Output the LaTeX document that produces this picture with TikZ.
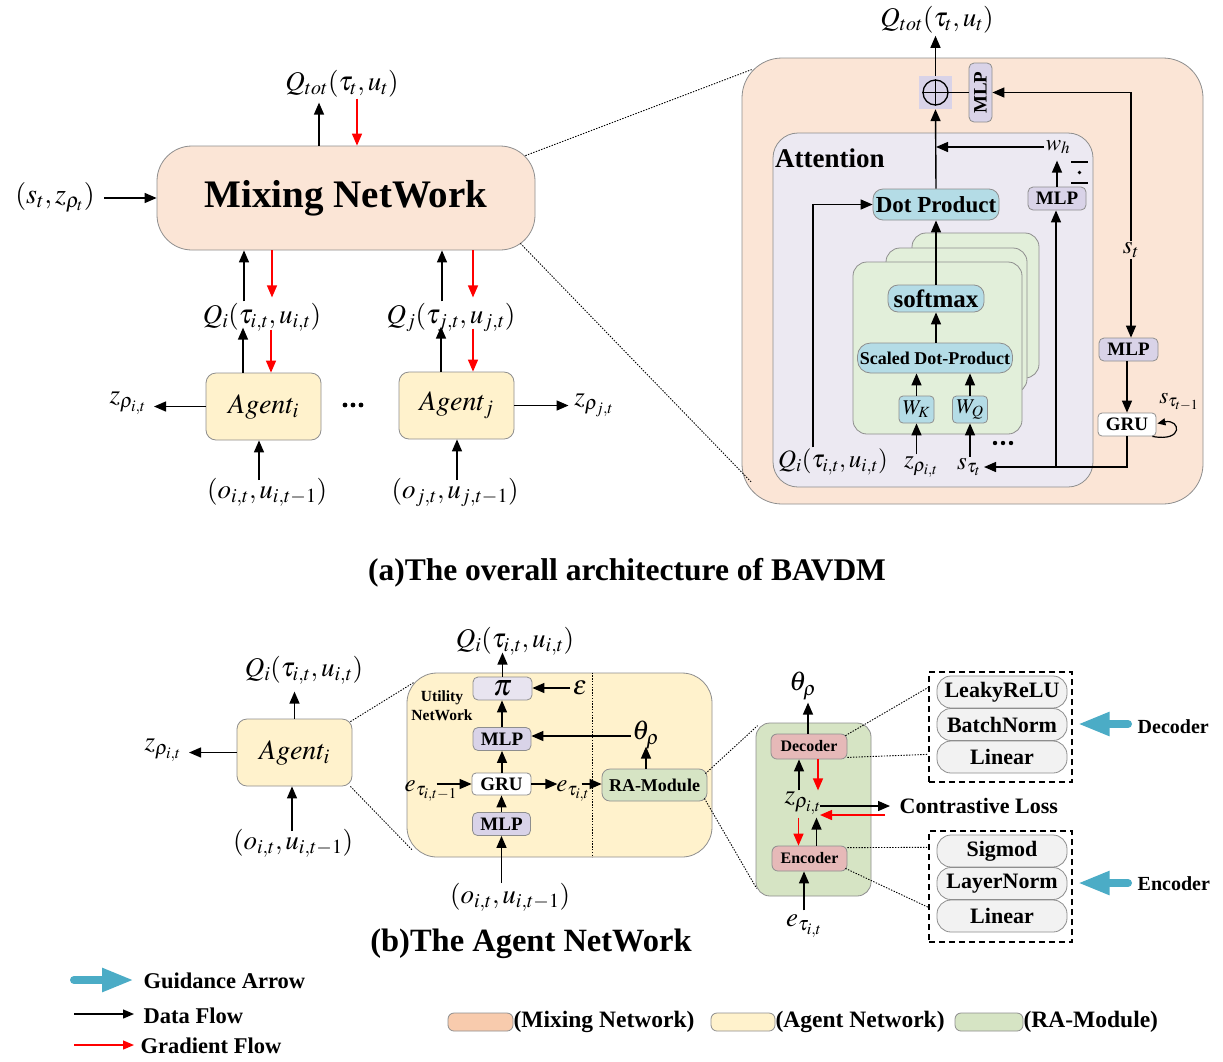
\documentclass[tikz,border=0pt]{standalone}
\usepackage{mathptmx}
\usepackage[no-math]{fontspec}
\setmainfont{Liberation Serif}
\usepackage{graphicx}
\usetikzlibrary{arrows.meta,calc}
\newcommand{\fsz}[1]{\fontsize{#1}{#1}\selectfont}
\definecolor{peach}{HTML}{FBE5D6}
\definecolor{agenty}{HTML}{FFF2CC}
\definecolor{attnl}{HTML}{ECE9F2}
\definecolor{greenl}{HTML}{E2EFDA}
\definecolor{blueb}{HTML}{B4DCE6}
\definecolor{lav}{HTML}{D9D3E8}
\definecolor{lavl}{HTML}{E8E4F0}
\definecolor{rag}{HTML}{D6E4C4}
\definecolor{pinkb}{HTML}{E6B9B8}
\definecolor{grayb}{HTML}{F2F2F2}
\definecolor{guide}{HTML}{4BACC6}
\definecolor{swmix}{HTML}{F8CBAD}
\definecolor{bord}{HTML}{8E8E8E}
\begin{document}
\begin{tikzpicture}[x=1pt,y=-1pt,
  every node/.style={inner sep=1.5pt},
  bx/.style={draw=bord, line width=0.8pt, inner sep=0pt, align=center},
  arr/.style={-{Triangle[length=12pt,width=10pt]}, line width=1.4pt},
  garr/.style={-{Triangle[length=12pt,width=10pt]}, line width=1.4pt, red},
  dotl/.style={dash pattern=on 1.4pt off 1.4pt, line width=0.9pt},
  guidearr/.style={draw=guide, line width=8pt, line cap=round, -{Triangle[length=32pt,width=22pt]}},
  dbox/.style={draw, dash pattern=on 6pt off 4pt, line width=1.3pt, inner sep=0pt},
  pill/.style={bx, fill=grayb, rounded corners=14pt, minimum width=130pt, minimum height=32pt, font={\fsz{22}\bfseries}},
  mlpbox/.style={bx, fill=lav, rounded corners=5pt, minimum width=58pt, minimum height=23pt, font={\fsz{19}\bfseries}},
  bluebox/.style={bx, fill=blueb, rounded corners=10pt},
]
\fill[white] (0,0) rectangle (1223,1061);
\useasboundingbox (0,0) rectangle (1223,1061);

%% ---------------- (a) left part
\node[bx, fill=peach, rounded corners=35pt, minimum width=378pt, minimum height=104pt, font={\fsz{39}\bfseries}] (mix) at (346,198) {Mixing NetWork};
\node[font=\fsz{27}] (qtot) at (342,84) {$Q_{tot}(\tau_t,u_t)$};
\draw[arr] ($(mix.north)+(-27,0)$) -- ($(mix.north)+(-27,-43)$);
\draw[garr] ($(mix.north)+(11,-47)$) -- ($(mix.north)+(11,0)$);
\node[font=\fsz{28}] (st) at (55,197) {$(s_t,z_{\rho_t})$};
\draw[arr] ($(st.east)+(8,1)$) -- ($(st.east -| mix.west)+(0,1)$);

\node[font=\fsz{27}] (qi) at (262,317) {$Q_i(\tau_{i,t},u_{i,t})$};
\node[font=\fsz{27}] (qj) at (451,317) {$Q_j(\tau_{j,t},u_{j,t})$};
\node[bx, fill=agenty, rounded corners=10pt, minimum width=115pt, minimum height=67pt, font=\fsz{28}] (agi) at (263.5,406.5) {$Agent_i$};
\node[bx, fill=agenty, rounded corners=10pt, minimum width=115pt, minimum height=67pt, font=\fsz{28}] (agj) at (456.5,405.5) {$Agent_j$};

\draw[arr] ($(mix.south)+(-102,51)$) -- ($(mix.south)+(-102,0)$);
\draw[garr] ($(mix.south)+(-74,0)$) -- ($(mix.south)+(-74,47)$);
\draw[arr] ($(mix.south)+(96,51)$) -- ($(mix.south)+(96,0)$);
\draw[garr] ($(mix.south)+(127,0)$) -- ($(mix.south)+(127,47)$);

\draw[arr] ($(agi.north)+(-20.5,0)$) -- ($(agi.north)+(-20.5,-45)$);
\draw[garr] ($(agi.north)+(7.5,-43)$) -- ($(agi.north)+(7.5,0)$);
\draw[arr] ($(agj.north)+(-15.5,0)$) -- ($(agj.north)+(-15.5,-45)$);
\draw[garr] ($(agj.north)+(16.5,-43)$) -- ($(agj.north)+(16.5,0)$);

\node[font=\fsz{27}] (zi) at (128,403) {$z_{\rho_{i,t}}$};
\draw[arr] (agi.west) -- ($(agi.west -| zi.east)+(6,0)$);
\node[font=\fsz{27}] (zj) at (594,405) {$z_{\rho_{j,t}}$};
\draw[arr] (agj.east) -- ($(agj.east -| zj.west)+(-4,0)$);
\fill (345,405) circle (2.4) (353,405) circle (2.4) (361,405) circle (2.4);

\node[font=\fsz{27}] (oi) at (267,492) {$(o_{i,t},u_{i,t-1})$};
\draw[arr] ($(oi.north)+(-8,4)$) -- ($(oi.north |- agi.south)+(-8,0)$);
\node[font=\fsz{27}] (oj) at (455,492) {$(o_{j,t},u_{j,t-1})$};
\draw[arr] ($(oj.north)+(2,4)$) -- ($(oj.north |- agj.south)+(2,0)$);

%% ---------------- (a) right part
\node[bx, fill=peach, rounded corners=40pt, minimum width=461pt, minimum height=446pt] (outer) at (972.5,281) {};
\draw[dotl] ($(mix.north east)+(-10,10)$) -- ($(outer.north west)+(10,12)$);
\draw[dotl] ($(mix.south east)+(-15,-7)$) -- ($(outer.south west)+(10,-22)$);
\node[bx, fill=attnl, rounded corners=25pt, minimum width=320pt, minimum height=354pt] (attn) at (933,310) {};
\node[anchor=west, font={\fsz{27}\bfseries}, inner sep=0pt] (attl) at (775,158) {Attention};
\node[bx, fill=greenl, rounded corners=14pt, minimum width=127pt, minimum height=145pt] (g3) at (975.5,305.5) {};
\node[bx, fill=greenl, rounded corners=14pt, minimum width=141pt, minimum height=145pt] (g2) at (956.5,320.5) {};
\node[bx, fill=greenl, rounded corners=14pt, minimum width=169pt, minimum height=172pt] (g1) at (937.5,348) {};

\node[fill=lav, minimum size=33pt, inner sep=0pt] (opsq) at (935.5,92.5) {};
\node[circle, draw, line width=1.3pt, minimum size=25pt, inner sep=0pt] (op) at (935.5,92.5) {};
\draw[line width=1.3pt] (op.north) -- (op.south) (op.west) -- (op.east);
\node[bx, fill=lav, rounded corners=5pt, minimum width=23pt, minimum height=59pt, font={\fsz{19}\bfseries}] (mlpv) at (980.5,92.5) {\rotatebox{90}{MLP}};
\draw[line width=1.4pt] (op.east) -- (mlpv.west);
\node[font=\fsz{27}] (qtot2) at (937,20) {$Q_{tot}(\tau_t,u_t)$};
\draw[arr] (opsq.north) -- ($(opsq.north)+(0,-40)$);

\node[bluebox, minimum width=126pt, minimum height=31pt, font={\fsz{23}\bfseries}] (dotp) at (936,204.5) {Dot Product};
\node[bluebox, minimum width=96pt, minimum height=27pt, font={\fsz{25}\bfseries}] (sm) at (936,298.5) {softmax};
\node[bluebox, rounded corners=13pt, minimum width=155pt, minimum height=30pt, font={\fsz{18}\bfseries}] (sc) at (935,358) {Scaled Dot-Product};
\node[bx, fill=blueb, rounded corners=4pt, minimum width=35pt, minimum height=27pt, font=\fsz{21}] (wk) at (916.5,409.5) {$W_K$};
\node[bx, fill=blueb, rounded corners=4pt, minimum width=35pt, minimum height=27pt, font=\fsz{21}] (wq) at (970,409.5) {$W_Q$};
\node[mlpbox] (mlpa) at (1057,198.5) {MLP};
\node[font=\fsz{23}] (wh) at (1058,147) {$w_h$};
\node[font=\fsz{25}] (stl) at (1131,250) {$s_t$};
\node[mlpbox, minimum width=59pt] (mlpr) at (1128.5,349.5) {MLP};
\node[bx, fill=white, rounded corners=4pt, minimum width=58pt, minimum height=23pt, font={\fsz{19}\bfseries}] (grur) at (1127,424.5) {GRU};
\node[font=\fsz{23}] (stm) at (1179,402) {$s_{\tau_{t-1}}$};
\node[font=\fsz{25}] (qia) at (833,462) {$Q_i(\tau_{i,t},u_{i,t})$};
\node[font=\fsz{25}, inner sep=0pt] (zr) at (921,467) {$z_{\rho_{i,t}}$};
\node[font=\fsz{25}, inner sep=0pt] (stau) at (969,467) {$s_{\tau_t}$};
\fill (995,443) circle (2.2) (1003,443) circle (2.2) (1011,443) circle (2.2);

\draw[arr] (dotp.north) -- (opsq.south);
\draw[arr] (sm.north) -- (dotp.south);
\draw[arr] (sc.north -| sm.south) -- (sm.south);
\draw[arr] (wk.north) -- (wk.north |- sc.south);
\draw[arr] (wq.north) -- (wq.north |- sc.south);
\draw[arr] ($(wk.south |- zr.north)+(0,-2)$) -- (wk.south);
\draw[arr] ($(wq.south |- stau.north)+(0,-1)$) -- (wq.south);
\draw[arr] ($(qia.north)+(-20,0)$) |- (dotp.west);
\draw[arr] (wh.west) -- (wh.west -| dotp.north);
\draw[arr] (mlpa.north) -- ($(mlpa.north)+(0,-26)$);
\draw[line width=1.3pt] (1071,162) -- (1088,162) (1071,183) -- (1088,183);
\fill (1079.5,172.5) circle (1.9);
\draw[arr] (stl.north) |- (mlpv.east);
\draw[arr] (stl.south) -- (stl.south |- mlpr.north);
\draw[arr] (mlpr.south -| grur.north) -- (grur.north);
\draw[arr] (grur.south) |- ($(stau.east)+(3,0)$);
\draw[arr] ($(mlpa.south |- stau.east)+(-1,0)$) -- ($(mlpa.south)+(-1,0)$);
\draw[-{Triangle[length=8pt,width=7pt]}, line width=1.2pt] ($(grur.south east)+(-4,0)$) .. controls ($(grur.south east)+(28,6)$) and ($(grur.east)+(24,-6)$) .. ($(grur.east)+(1,-1)$);

%% ---------------- captions
\node[font={\fsz{31.5}\bfseries}] (capa) at (627,573) {(a)The overall architecture of BAVDM};
\node[font={\fsz{32.5}\bfseries}] (capb) at (531,944) {(b)The Agent NetWork};

%% ---------------- (b) left agent
\node[bx, fill=agenty, rounded corners=10pt, minimum width=115pt, minimum height=67pt, font=\fsz{28}] (agb) at (294.5,752.5) {$Agent_i$};
\node[font=\fsz{27}] (qib) at (304,670) {$Q_i(\tau_{i,t},u_{i,t})$};
\draw[arr] (agb.north) -- ($(agb.north)+(0,-27)$);
\node[font=\fsz{27}] (zb) at (163,750) {$z_{\rho_{i,t}}$};
\draw[arr] (agb.west) -- ($(agb.west -| zb.east)+(6,0)$);
\node[font=\fsz{27}] (ob) at (293,843) {$(o_{i,t},u_{i,t-1})$};
\draw[arr] ($(ob.north)+(-1,4)$) -- ($(ob.north |- agb.south)+(-1,0)$);

%% ---------------- (b) agent network
\node[bx, fill=agenty, rounded corners=30pt, minimum width=305pt, minimum height=184pt] (util) at (559.5,765) {};
\draw[dotl] ($(agb.north east)+(-2,3)$) -- ($(util.north west)+(7,10)$);
\draw[dotl] ($(agb.south east)+(-2,0)$) -- ($(util.south west)+(6,-7)$);
\draw[dotl] ($(util.north)+(32.5,0)$) -- ($(util.south)+(32.5,0)$);
\node[font={\fontsize{15.5}{19}\selectfont\bfseries}, align=center] (utl) at (442,706) {Utility\\NetWork};
\node[bx, fill=lavl, rounded corners=5pt, minimum width=59pt, minimum height=23pt, font=\fsz{30}] (pi) at (502.5,688.5) {$\pi$};
\node[font=\fsz{27}] (qu) at (515,641) {$Q_i(\tau_{i,t},u_{i,t})$};
\draw[arr] (pi.north) -- ($(pi.north)+(0,-24)$);
\node[font=\fsz{27}] (eps) at (580,688) {$\varepsilon$};
\draw[arr] ($(eps.west)+(-1,0)$) -- (eps.west -| pi.east);
\node[mlpbox, fill=lav] (mlp1) at (502,739) {MLP};
\draw[arr] (mlp1.north) -- (mlp1.north |- pi.south);
\node[font=\fsz{27}] (th) at (646,735) {$\theta_\rho$};
\draw[arr] ($(th.west)+(0,1)$) -- ($(th.west -| mlp1.east)+(0,1)$);
\node[bx, fill=white, rounded corners=4pt, minimum width=59pt, minimum height=22pt, font={\fsz{19}\bfseries}] (gru) at (501.5,784) {GRU};
\draw[arr] (gru.north -| mlp1.south) -- (mlp1.south);
\node[mlpbox] (mlp2) at (501.5,824) {MLP};
\draw[arr] (mlp2.north) -- (mlp2.north |- gru.south);
\node[font=\fsz{27}] (ou) at (510,897) {$(o_{i,t},u_{i,t-1})$};
\draw[arr] ($(ou.north -| mlp2.south)+(0,2)$) -- (mlp2.south);
\node[bx, fill=rag, rounded corners=8pt, minimum width=105pt, minimum height=32pt, font={\fsz{18}\bfseries}] (ra) at (654.5,785) {RA-Module};
\draw[arr] ($(ra.north)+(-8.5,0)$) -- ($(ra.north)+(-8.5,-22)$);
\node[font=\fsz{25}] (e1) at (431,791) {$e_{\tau_{i,t-1}}$};
\draw[arr] ($(gru.west)+(-35,0)$) -- (gru.west);
\node[font=\fsz{25}] (e2) at (573,791) {$e_{\tau_{i,t}}$};
\draw[arr] (gru.east) -- ($(gru.east)+(26,0)$);
\draw[arr] ($(ra.west)+(-20,-1)$) -- ($(ra.west)+(0,-1)$);

%% ---------------- (b) RA-module detail
\node[bx, fill=rag, rounded corners=14pt, minimum width=115pt, minimum height=173pt] (green) at (813.5,809.5) {};
\draw[dotl] ($(ra.north east)+(-2,5)$) -- ($(green.north west)+(2,3)$);
\draw[dotl] ($(ra.south east)+(-3,-3)$) -- ($(green.south west)+(1,-8)$);
\node[bx, fill=pinkb, rounded corners=6pt, minimum width=76pt, minimum height=25pt, font={\fsz{16}\bfseries}] (dec) at (809,746.5) {Decoder};
\node[bx, fill=pinkb, rounded corners=6pt, minimum width=75pt, minimum height=25pt, font={\fsz{16}\bfseries}] (enc) at (809.5,858.5) {Encoder};
\node[font=\fsz{27}] (thb) at (803,686) {$\theta_\rho$};
\draw[arr] ($(dec.north)+(-1,0)$) -- ($(dec.north)+(-1,-31)$);
\node[font=\fsz{27}] (zg) at (803,803) {$z_{\rho_{i,t}}$};
\draw[arr] ($(dec.south)+(-10,31)$) -- ($(dec.south)+(-10,0)$);
\draw[garr] ($(dec.south)+(9,0)$) -- ($(dec.south)+(9,31)$);
\draw[garr] ($(enc.north)+(-11,-28)$) -- ($(enc.north)+(-11,0)$);
\draw[arr] ($(enc.north)+(7,0)$) -- ($(enc.north)+(7,-28)$);
\node[anchor=west, font={\fsz{22}\bfseries}] (cl) at (898,806) {Contrastive Loss};
\draw[arr] ($(cl.west)+(-78,0)$) -- ($(cl.west)+(-8,0)$);
\draw[garr] ($(cl.west)+(-13,9)$) -- ($(cl.west)+(-78,9)$);
\node[font=\fsz{27}] (eb) at (804,926) {$e_{\tau_{i,t}}$};
\draw[arr] ($(enc.south)+(-5.5,39)$) -- ($(enc.south)+(-5.5,0)$);

\node[dbox, minimum width=143pt, minimum height=110pt] (db1) at (1000.5,727) {};
\node[pill] (leaky) at (1002,692) {LeakyReLU};
\node[pill] (batch) at (1002,724.5) {BatchNorm};
\node[pill] (lin1) at (1002,757) {Linear};
\node[dbox, minimum width=143pt, minimum height=111pt] (db2) at (1000.5,886.5) {};
\node[pill] (sig) at (1002,851) {Sigmod};
\node[pill] (layer) at (1002,883.5) {LayerNorm};
\node[pill] (lin2) at (1002,916) {Linear};
\draw[dotl] ($(dec.north east)+(-2,2)$) -- ($(db1.north west)+(0,16)$);
\draw[dotl] ($(dec.south east)+(0,-2)$) -- ($(db1.north west)+(0,83)$);
\draw[dotl] ($(enc.north east)+(0,2)$) -- ($(db2.north west)+(0,17)$);
\draw[dotl] ($(enc.south east)+(-2,-3)$) -- ($(db2.north west)+(0,77)$);

\node[anchor=west, font={\fsz{20}\bfseries}] (dlab) at (1136,727) {Decoder};
\draw[guidearr] ($(dlab.west)+(-8,-3)$) -- ($(db1.east)+(5,-3)$);
\node[anchor=west, font={\fsz{20}\bfseries}] (elab) at (1136,884) {Encoder};
\draw[guidearr] ($(elab.west)+(-8,-1)$) -- ($(db2.east |- elab.west)+(5,-1)$);

%% ---------------- legend
\node[anchor=west, font={\fsz{22.5}\bfseries}] (lg1) at (142,981) {Guidance Arrow};
\draw[guidearr] ($(lg1.west)+(-68,-1)$) -- ($(lg1.west)+(-8,-1)$);
\node[anchor=west, font={\fsz{22.5}\bfseries}] (lg2) at (142,1016) {Data Flow};
\draw[-{Triangle[length=11pt,width=9pt]}, line width=1.2pt] ($(lg2.west)+(-68,-2)$) -- ($(lg2.west)+(-8,-2)$);
\node[anchor=west, font={\fsz{22.5}\bfseries}] (lg3) at (139,1046) {Gradient Flow};
\draw[-{Triangle[length=11pt,width=9pt]}, line width=1.2pt, red] ($(lg3.west)+(-65,-1)$) -- ($(lg3.west)+(-5,-1)$);

\node[bx, fill=swmix, rounded corners=6pt, minimum width=65pt, minimum height=18pt] (sw1) at (480.5,1022) {};
\node[anchor=west, inner sep=0pt, font={\fsz{23.5}\bfseries}] (sl1) at (sw1.east) {(Mixing Network)};
\node[bx, fill=agenty, rounded corners=6pt, minimum width=64pt, minimum height=18pt] (sw2) at (743,1022) {};
\node[anchor=west, inner sep=0pt, font={\fsz{23.5}\bfseries}] (sl2) at (sw2.east) {(Agent Network)};
\node[bx, fill=rag, rounded corners=6pt, minimum width=68pt, minimum height=18pt] (sw3) at (989,1022) {};
\node[anchor=west, inner sep=0pt, font={\fsz{23.5}\bfseries}] (sl3) at (sw3.east) {(RA-Module)};
\end{tikzpicture}
\end{document}
